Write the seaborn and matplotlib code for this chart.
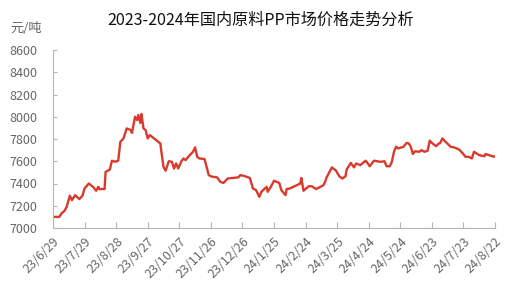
import matplotlib
matplotlib.use("Agg")
import matplotlib.pyplot as plt
import seaborn as sns
import pandas as pd

title = "2023-2024年国内原料PP市场价格走势分析"
unit = "元/吨"

dates = [
    "2023-06-29", "2023-07-05", "2023-07-07", "2023-07-10", "2023-07-12", "2023-07-15",
    "2023-07-17", "2023-07-20", "2023-07-24", "2023-07-27", "2023-07-29", "2023-08-02",
    "2023-08-06", "2023-08-09", "2023-08-11", "2023-08-12", "2023-08-17", "2023-08-18",
    "2023-08-22", "2023-08-24", "2023-08-27", "2023-08-30", "2023-09-01", "2023-09-04",
    "2023-09-07", "2023-09-11", "2023-09-12", "2023-09-15", "2023-09-17", "2023-09-18",
    "2023-09-20", "2023-09-21", "2023-09-23", "2023-09-25", "2023-09-27", "2023-09-29",
    "2023-10-09", "2023-10-10", "2023-10-12", "2023-10-14", "2023-10-17", "2023-10-20",
    "2023-10-22", "2023-10-24", "2023-10-26", "2023-10-29", "2023-10-31", "2023-11-02",
    "2023-11-06", "2023-11-09", "2023-11-11", "2023-11-13", "2023-11-15", "2023-11-20",
    "2023-11-24", "2023-11-26", "2023-11-28", "2023-12-02", "2023-12-05", "2023-12-08",
    "2023-12-12", "2023-12-17", "2023-12-22", "2023-12-24", "2023-12-27", "2024-01-02",
    "2024-01-05", "2024-01-08", "2024-01-11", "2024-01-13", "2024-01-18", "2024-01-19",
    "2024-01-22", "2024-01-25", "2024-01-30", "2024-02-01", "2024-02-05", "2024-02-06",
    "2024-02-09", "2024-02-19", "2024-02-20", "2024-02-22", "2024-02-27", "2024-03-01",
    "2024-03-05", "2024-03-09", "2024-03-12", "2024-03-14", "2024-03-15", "2024-03-20",
    "2024-03-24", "2024-03-27", "2024-03-30", "2024-04-02", "2024-04-03", "2024-04-07",
    "2024-04-10", "2024-04-12", "2024-04-16", "2024-04-21", "2024-04-22", "2024-04-25",
    "2024-04-29", "2024-05-05", "2024-05-09", "2024-05-11", "2024-05-14", "2024-05-16",
    "2024-05-18", "2024-05-20", "2024-05-22", "2024-05-27", "2024-05-30", "2024-06-01",
    "2024-06-03", "2024-06-05", "2024-06-07", "2024-06-11", "2024-06-13", "2024-06-16",
    "2024-06-19", "2024-06-21", "2024-06-23", "2024-06-27", "2024-06-29", "2024-07-01",
    "2024-07-03", "2024-07-06", "2024-07-11", "2024-07-14", "2024-07-19", "2024-07-22",
    "2024-07-25", "2024-07-28", "2024-07-31", "2024-08-02", "2024-08-07", "2024-08-12",
    "2024-08-13", "2024-08-18", "2024-08-21", "2024-08-22",
]
prices = [
    7100, 7100, 7130, 7155, 7190, 7290,
    7250, 7295, 7260, 7290, 7355, 7400,
    7370, 7335, 7370, 7350, 7350, 7505,
    7525, 7605, 7595, 7605, 7775, 7805,
    7895, 7880, 7855, 8000, 7970, 8015,
    7945, 8025, 7895, 7880, 7805, 7835,
    7760, 7685, 7550, 7515, 7600, 7595,
    7535, 7580, 7535, 7600, 7625, 7610,
    7655, 7685, 7725, 7640, 7625, 7620,
    7475, 7465, 7460, 7455, 7415, 7405,
    7445, 7450, 7455, 7475, 7470, 7450,
    7355, 7340, 7280, 7325, 7370, 7325,
    7370, 7425, 7405, 7340, 7295, 7350,
    7355, 7400, 7450, 7335, 7375, 7375,
    7350, 7370, 7385, 7425, 7455, 7545,
    7515, 7465, 7445, 7465, 7525, 7585,
    7545, 7580, 7565, 7605, 7595, 7555,
    7605, 7595, 7600, 7555, 7555, 7595,
    7685, 7730, 7715, 7730, 7765, 7760,
    7730, 7665, 7690, 7685, 7700, 7685,
    7695, 7785, 7765, 7735, 7755, 7765,
    7805, 7775, 7730, 7725, 7705, 7675,
    7640, 7640, 7625, 7685, 7655, 7645,
    7665, 7650, 7640, 7645,
]
tick_dates = [
    "2023-06-29", "2023-07-29", "2023-08-28", "2023-09-27", "2023-10-27",
    "2023-11-26", "2023-12-26", "2024-01-25", "2024-02-24", "2024-03-25",
    "2024-04-24", "2024-05-24", "2024-06-23", "2024-07-23", "2024-08-22",
]
tick_labels = [
    "23/6/29", "23/7/29", "23/8/28", "23/9/27", "23/10/27",
    "23/11/26", "23/12/26", "24/1/25", "24/2/24", "24/3/25",
    "24/4/24", "24/5/24", "24/6/23", "24/7/23", "24/8/22",
]
y_ticks = [7000, 7200, 7400, 7600, 7800, 8000, 8200, 8400, 8600]

sns.set_theme(style="white")
plt.rcParams["font.family"] = ["Noto Sans CJK SC", "DejaVu Sans"]

df = pd.DataFrame({"date": pd.to_datetime(dates), "price": prices})

W, H = 522, 295
fig = plt.figure(figsize=(W / 100, H / 100), dpi=100)
ax = fig.add_axes([53 / W, 1 - 228 / H, (495 - 53) / W, (228 - 50) / H])

sns.lineplot(data=df, x="date", y="price", ax=ax, color="#d83a2c", linewidth=1.7)

ax.set_xlim(pd.Timestamp(tick_dates[0]), pd.Timestamp(tick_dates[-1]))
ax.set_ylim(y_ticks[0], y_ticks[-1])
ax.set_xticks(pd.to_datetime(tick_dates))
ax.set_xticklabels(tick_labels, rotation=45, ha="right", va="top",
                   rotation_mode="anchor", fontsize=9, color="#666666")
ax.set_yticks(y_ticks)
ax.set_yticklabels([str(v) for v in y_ticks], fontsize=9, color="#666666")
ax.set_xlabel("")
ax.set_ylabel("")

for s in ["top", "right"]:
    ax.spines[s].set_visible(False)
for s in ["left", "bottom"]:
    ax.spines[s].set_color("#b5b5b5")
    ax.spines[s].set_linewidth(0.8)
ax.tick_params(axis="x", direction="in", length=4, width=0.8, color="#b5b5b5", pad=5, bottom=True)
ax.tick_params(axis="y", direction="in", length=3, width=0.8, color="#b5b5b5", pad=11, left=True)
ax.grid(False)

fig.text(261 / W, 1 - 20 / H, title, ha="center", va="center", fontsize=11.6, color="#111111")
fig.text(10 / W, 1 - 28 / H, unit, ha="left", va="center", fontsize=9.5, color="#666666")

fig.savefig("out.png", dpi=100)
